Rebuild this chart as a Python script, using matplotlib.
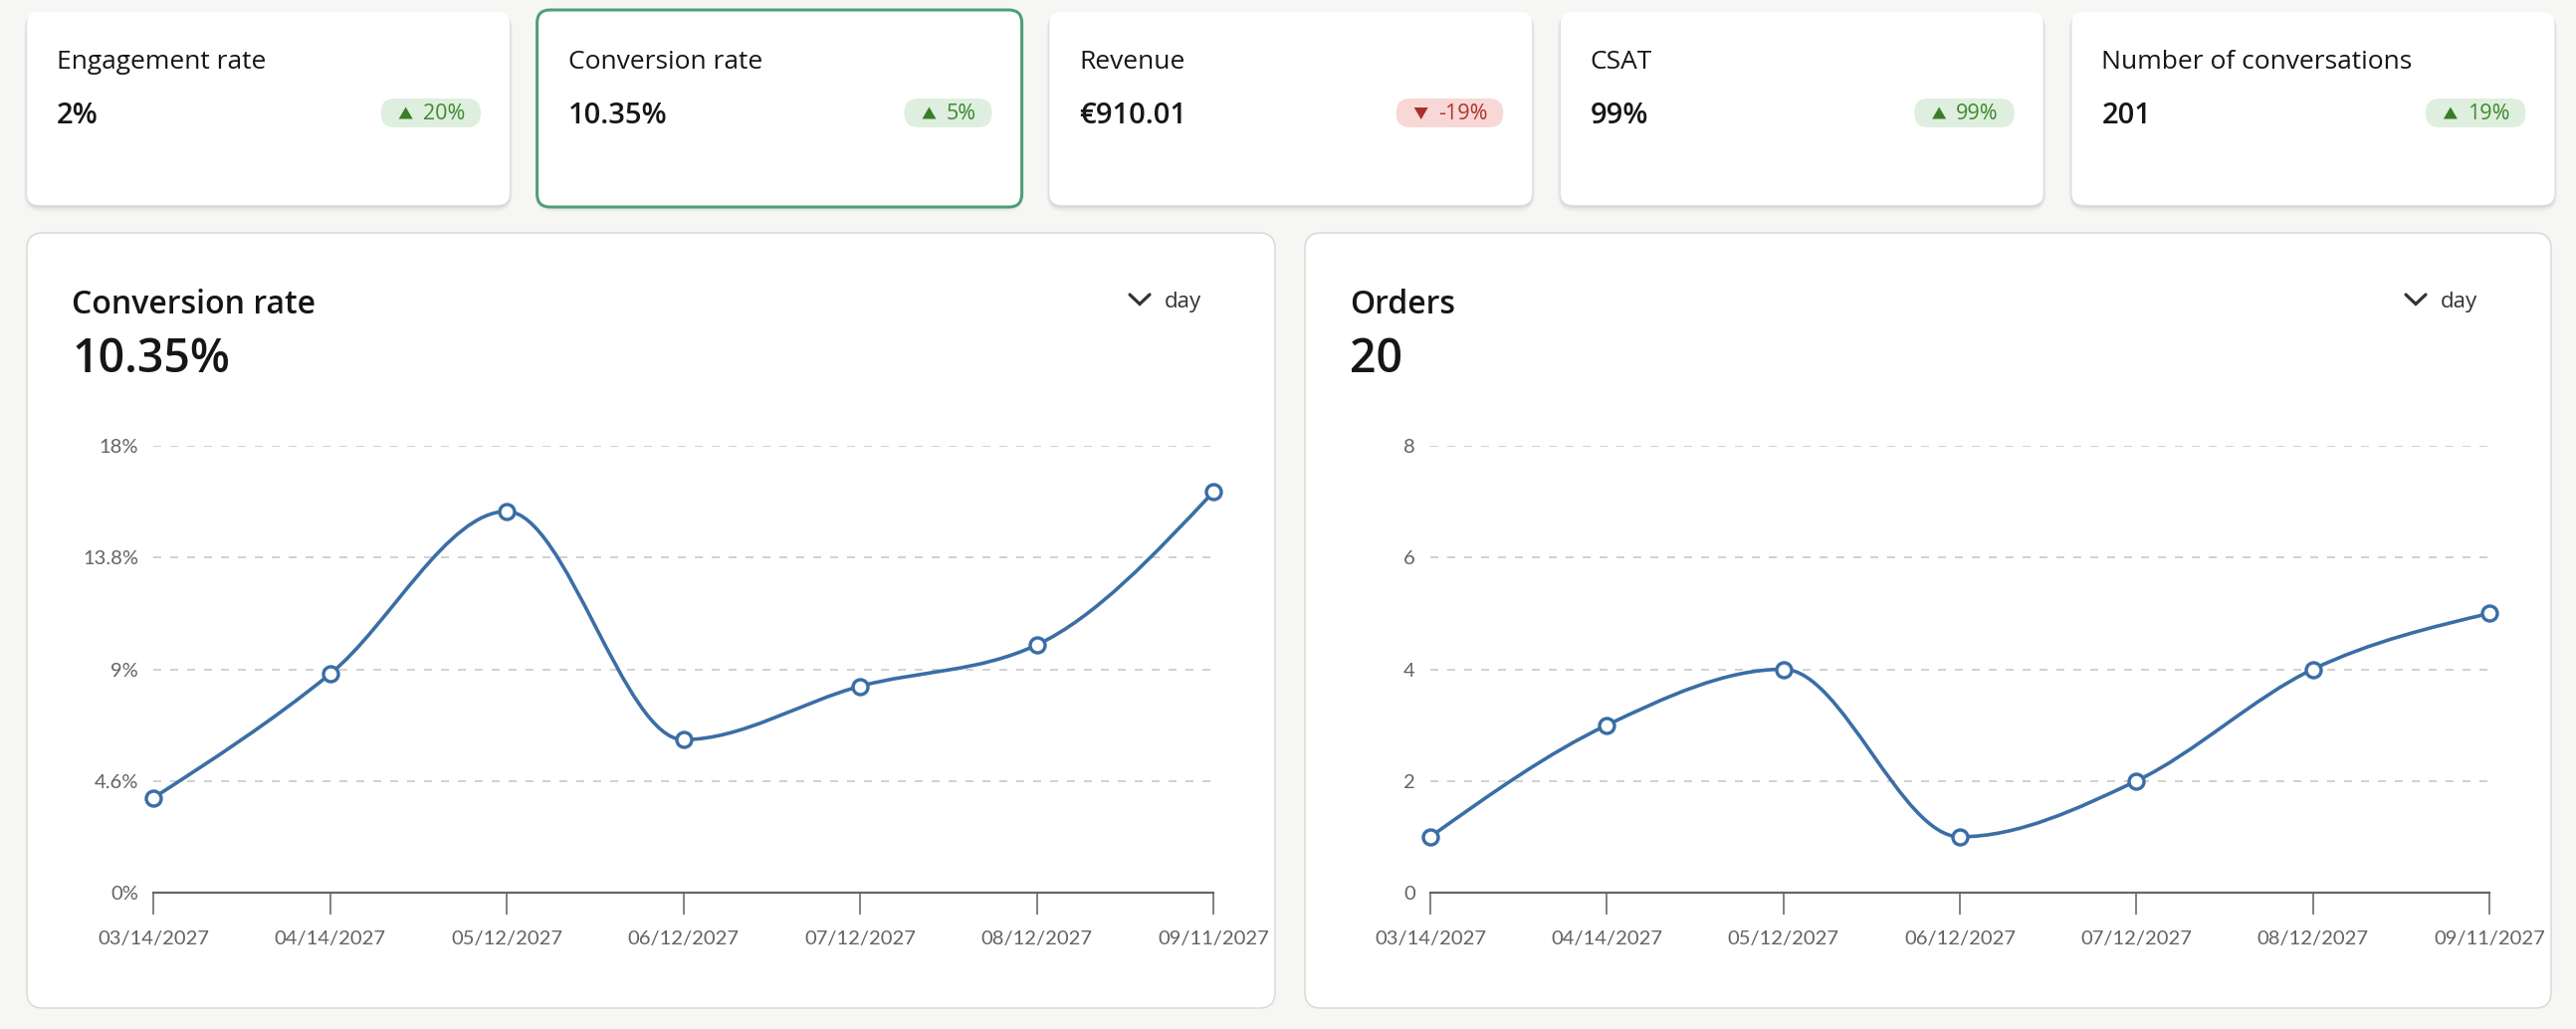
import numpy as np
import matplotlib
matplotlib.use("Agg")
from matplotlib import pyplot as plt
from matplotlib.patches import FancyBboxPatch, Polygon, PathPatch
from matplotlib.path import Path

# ---- data ----
card_titles = ["Engagement rate", "Conversion rate", "Revenue", "CSAT", "Number of conversations"]
card_values = ["2%", "10.35%", "€910.01", "99%", "201"]
card_changes = ["20%", "5%", "-19%", "99%", "19%"]
card_up = [True, True, False, True, True]
selected_card = 1

dates = ["03/14/2027", "04/14/2027", "05/12/2027", "06/12/2027", "07/12/2027", "08/12/2027", "09/11/2027"]

conv_title = "Conversion rate"
conv_total = "10.35%"
conv_values = [3.9, 9.0, 15.7, 6.3, 8.5, 10.2, 16.5]
conv_ticks = [0, 4.6, 9.2, 13.8, 18.4]
conv_ticklabels = ["0%", "4.6%", "9%", "13.8%", "18%"]

orders_title = "Orders"
orders_total = "20"
orders_values = [1, 3, 4, 1, 2, 4, 5]
orders_ticks = [0, 2, 4, 6, 8]
orders_ticklabels = ["0", "2", "4", "6", "8"]

# ---- look ----
W, H = 2588, 1034
DPI = 100
PT = 72.0 / DPI          # points per pixel
BG = "#f6f6f4"
LINE = "#3a6ea5"
AXIS = "#666666"
TXT = "#161616"
UI_FONT = ["Open Sans", "DejaVu Sans"]
TICK_FONT = ["Lato", "DejaVu Sans"]


def monotone_path(xs, ys):
    # same curve as d3.curveMonotoneX
    xs = np.asarray(xs, float)
    ys = np.asarray(ys, float)
    n = len(xs)
    h = np.diff(xs)
    s = np.diff(ys) / h
    t = np.zeros(n)
    for i in range(1, n - 1):
        p = (s[i - 1] * h[i] + s[i] * h[i - 1]) / (h[i - 1] + h[i])
        t[i] = (np.sign(s[i - 1]) + np.sign(s[i])) * min(abs(s[i - 1]), abs(s[i]), 0.5 * abs(p))
    t[0] = (3 * s[0] - t[1]) / 2
    t[-1] = (3 * s[-1] - t[-2]) / 2
    verts = [(xs[0], ys[0])]
    codes = [Path.MOVETO]
    for i in range(n - 1):
        dx = (xs[i + 1] - xs[i]) / 3
        verts += [(xs[i] + dx, ys[i] + dx * t[i]),
                  (xs[i + 1] - dx, ys[i + 1] - dx * t[i + 1]),
                  (xs[i + 1], ys[i + 1])]
        codes += [Path.CURVE4] * 3
    return Path(verts, codes)


fig = plt.figure(figsize=(W / DPI, H / DPI), dpi=DPI)
fig.patch.set_facecolor(BG)
bg = fig.add_axes([0, 0, 1, 1])
bg.set_xlim(0, W)
bg.set_ylim(H, 0)
bg.axis("off")
renderer = fig.canvas.get_renderer()


def rounded(x0, y0, x1, y1, r, **kw):
    p = FancyBboxPatch((x0, y0), x1 - x0, y1 - y0,
                       boxstyle="round,pad=0,rounding_size=%d" % r, **kw)
    bg.add_patch(p)
    return p


def shadow(x0, y0, x1, y1, r):
    for k, a in [(6, 0.025), (4, 0.035), (2, 0.05)]:
        rounded(x0 - k / 2, y0 + 1, x1 + k / 2, y1 + k + 1, r + k,
                facecolor="black", edgecolor="none", alpha=a, zorder=1)


# ---- KPI cards ----
card_w = 485
for i in range(len(card_titles)):
    x0 = 27 + i * 513.6
    x1 = x0 + card_w
    y0, y1 = 12, 206
    shadow(x0, y0, x1, y1, 12)
    if i == selected_card:
        rounded(x0 - 1, y0 - 2, x1 + 1, y1 + 2, 13, facecolor="white",
                edgecolor="#4f9e78", linewidth=3 * PT, zorder=2)
    else:
        rounded(x0, y0, x1, y1, 12, facecolor="white", edgecolor="none", zorder=2)
    bg.text(x0 + 30, 62.5, card_titles[i], fontsize=19, family=UI_FONT,
            color=TXT, va="center", ha="left", zorder=3)
    bg.text(x0 + 30, 117, card_values[i], fontsize=21, family=UI_FONT,
            weight="semibold", color=TXT, va="center", ha="left", zorder=3)

    # change badge
    if card_up[i]:
        fc, tc, mc = "#dfefdf", "#3f8a2e", "#3a7d27"
    else:
        fc, tc, mc = "#f8d8d6", "#b0352c", "#a8322a"
    bx1 = x1 - 29
    t = bg.text(bx1 - 16, 114.5, card_changes[i], fontsize=15.5, family=UI_FONT,
                color=tc, va="center", ha="right", zorder=5)
    tw = t.get_window_extent(renderer).width
    tri_r = bx1 - 16 - tw - 10
    tri_l = tri_r - 14
    if card_up[i]:
        tri = [(tri_l, 119.5), (tri_r, 119.5), ((tri_l + tri_r) / 2, 107.5)]
    else:
        tri = [(tri_l, 108), (tri_r, 108), ((tri_l + tri_r) / 2, 120)]
    bg.add_patch(Polygon(tri, closed=True, facecolor=mc, edgecolor="none", zorder=5))
    rounded(tri_l - 18, 99, bx1, 128, 14.5, facecolor=fc, edgecolor="none", zorder=4)


# ---- chart panels ----
def panel(px0, px1, plot_x0, plot_x1, title, total, values, ticks, ticklabels):
    py0, py1 = 234, 1013
    rounded(px0, py0, px1, py1, 16, facecolor="white", edgecolor="#d9d9d4",
            linewidth=1.5 * PT, zorder=2)
    bg.text(px0 + 45, 306.5, title, fontsize=23, family=UI_FONT, weight="semibold",
            color=TXT, va="center", ha="left", zorder=3)
    bg.text(px0 + 45, 362, total, fontsize=33.5, family=UI_FONT, weight="semibold",
            color=TXT, va="center", ha="left", zorder=3)
    # period selector
    dx = px1 - 111
    bg.text(dx, 303, "day", fontsize=16, family=UI_FONT, color="#333333",
            va="center", ha="left", zorder=3)
    bg.plot([dx - 35, dx - 25, dx - 15], [296, 305.5, 296], color="#333333",
            lw=3.2 * PT, solid_capstyle="round", solid_joinstyle="miter", zorder=3)

    top, bottom = 448, 897
    ax = fig.add_axes([plot_x0 / W, (H - bottom) / H,
                       (plot_x1 - plot_x0) / W, (bottom - top) / H])
    ax.set_facecolor("none")
    n = len(values)
    xs = np.arange(n)
    ax.set_xlim(0, n - 1)
    ax.set_ylim(ticks[0], ticks[-1])

    for v in ticks[1:]:
        ax.axhline(v, color="#d2d2d2", lw=2 * PT, linestyle=(0, (4, 4.5)), zorder=1)

    ax.add_patch(PathPatch(monotone_path(xs, values), facecolor="none",
                           edgecolor=LINE, lw=3.6 * PT, zorder=3, clip_on=False))
    ax.plot(xs, values, "o", ms=15 * PT, mfc="white", mec=LINE, mew=3.4 * PT,
            zorder=4, clip_on=False)

    for s in ["top", "right", "left"]:
        ax.spines[s].set_visible(False)
    ax.spines["bottom"].set_color(AXIS)
    ax.spines["bottom"].set_linewidth(2.2 * PT)
    ax.spines["bottom"].set_zorder(2)

    ax.set_xticks(xs)
    ax.set_xticklabels(dates)
    ax.tick_params(axis="x", direction="out", length=22 * PT, width=1.6 * PT,
                   color=AXIS, pad=16 * PT, labelsize=14.5, labelcolor="#636363")
    ax.set_yticks(ticks)
    ax.set_yticklabels(ticklabels)
    ax.tick_params(axis="y", length=0, pad=15 * PT, labelsize=14.5, labelcolor="#636363")
    for lab in ax.get_xticklabels() + ax.get_yticklabels():
        lab.set_family(TICK_FONT)
    return ax


panel(27, 1281, 154, 1219, conv_title, conv_total, conv_values, conv_ticks, conv_ticklabels)
panel(1311, 2563, 1437, 2501, orders_title, orders_total, orders_values, orders_ticks, orders_ticklabels)

fig.savefig("out.png", dpi=DPI, facecolor=BG)
